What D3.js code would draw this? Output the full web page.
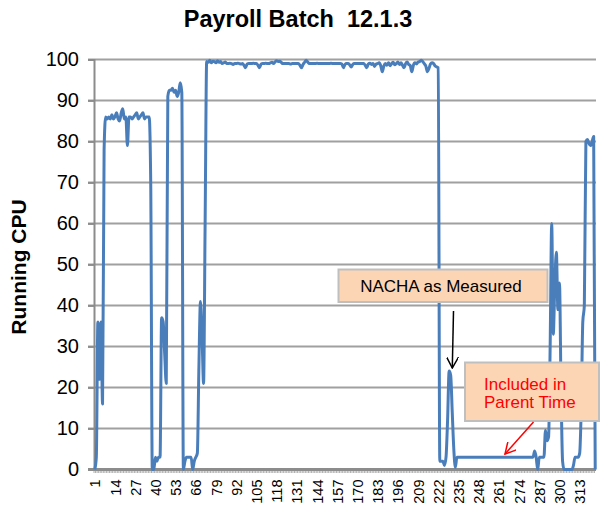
<!DOCTYPE html>
<html>
<head>
<meta charset="utf-8">
<script src="https://cdn.jsdelivr.net/npm/d3@7"></script>
<style>
  body { margin: 0; background: #fff; }
  svg { display: block; font-family: "Liberation Sans", Arial, sans-serif; }
</style>
</head>
<body>
<script>
// running CPU, one value per sample (1..323)
var cpu = [
  0, 3, 36, 22, 36, 16, 78, 86, 85.5, 86,
  85.5, 86.5, 85.5, 86, 87, 85.5, 85, 87, 88, 85.5,
  86, 79, 86, 86, 85.5, 86, 86.5, 87, 85.5, 86,
  86.5, 87, 85.5, 86, 86, 86, 70, 0, 0, 3,
  2, 3, 3, 37, 36, 28, 21, 91, 92.5, 92.5,
  93, 92, 92.5, 91, 92, 94.3, 92, 0, 2, 3,
  3, 3, 3, 0, 2, 3, 4, 25, 41, 33,
  21, 60, 99.5, 99.3, 99.8, 99.2, 99.6, 99.5, 99.2, 99.7,
  99.3, 99.5, 99, 99.2, 99.4, 99, 99, 99.1, 99, 98.8,
  99, 99, 99.1, 99, 98.9, 99, 98.6, 98, 98.9, 99,
  99, 99, 99.1, 99, 99, 98.6, 98, 98.9, 99, 99,
  99.1, 99, 99, 99.2, 99.3, 99, 99.4, 99.7, 99.5, 99.6,
  99.3, 99, 99, 99, 99, 99, 98.9, 99, 99, 99,
  99, 99, 98.6, 98, 98.8, 99.3, 99.8, 99.4, 99, 99,
  99, 99, 99, 99.1, 99, 99, 99, 99, 99, 99,
  99, 99, 99.1, 99, 99, 99, 99, 99, 99, 98.9,
  98, 98.8, 99, 99, 98.7, 98.2, 98.8, 99, 99, 99,
  99, 99, 99, 99, 98.6, 98, 98.9, 99.1, 98.8, 99,
  98.3, 98.9, 99, 99.2, 98.5, 97, 98.4, 99, 98.6, 99.2,
  98.5, 99, 99.3, 98.7, 99, 99.4, 98.8, 99.2, 98.6, 98,
  99, 99.4, 98.8, 98.5, 97, 98.6, 99.2, 98.9, 99.4, 99.5,
  99.8, 99.5, 99, 98.4, 97, 97.8, 98.9, 99.2, 99, 98.4,
  98.2, 98, 2, 2, 2, 1, 3, 12, 24, 23,
  14, 5, 0.5, 3, 3, 3, 3, 3, 3, 3,
  3, 3, 3, 3, 3, 3, 3, 3, 3, 3,
  3, 3, 3, 3, 3, 3, 3, 3, 3, 3,
  3, 3, 3, 3, 3, 3, 3, 3, 3, 3,
  3, 3, 3, 3, 3, 3, 3, 3, 3, 3,
  3, 3, 3, 4.5, 3, 0, 3, 3, 3, 3,
  9.6, 7, 8, 30, 60, 33, 45, 53, 39, 45.5,
  20, 2, 0, 0, 0, 0, 0, 0, 1, 3,
  3, 3, 4, 15, 36, 40, 80, 80.5, 79.5, 79,
  80, 81.2, 0
];
var samples = d3.range(1, cpu.length + 1);
var xLabels = ["1", "14", "27", "40", "53", "66", "79", "92", "105", "118", "131", "144", "157",
  "170", "183", "196", "209", "222", "235", "248", "261", "274", "287", "300", "313"];
var yTicks = [0, 10, 20, 30, 40, 50, 60, 70, 80, 90, 100];

var w = 600, h = 509;
var plotLeft = 94, plotRight = 596, plotTop = 59.5, plotBottom = 469.5;

var svg = d3.select("body").append("svg")
    .attr("width", w)
    .attr("height", h);

var x = d3.scalePoint().domain(samples).range([plotLeft, plotRight]).padding(0.5);
var y = d3.scaleLinear().domain([0, 100]).range([plotBottom, plotTop]);

// gridlines + left ticks
svg.append("g")
    .selectAll("line")
    .data(yTicks.filter(function (d) { return d > 0; }))
    .enter().append("line")
    .attr("x1", plotLeft - 6).attr("x2", plotRight)
    .attr("y1", function (d) { return y(d); })
    .attr("y2", function (d) { return y(d); })
    .attr("stroke", "#a0a0a0")
    .attr("stroke-width", 1.8);

// y axis
var yAxis = d3.axisLeft(y).tickValues(yTicks).tickSize(6).tickPadding(9);
var gy = svg.append("g").attr("transform", "translate(" + plotLeft + ",0)").call(yAxis);
gy.select(".domain").attr("stroke", "#8c8c8c").attr("stroke-width", 2);
gy.selectAll(".tick line").attr("stroke", "#8c8c8c").attr("stroke-width", 1.8);
gy.selectAll(".tick text")
    .attr("font-family", "Liberation Sans, Arial, sans-serif")
    .attr("font-size", 20)
    .attr("fill", "#000");

// x axis: tick every sample, label every 13th
var xAxis = d3.axisBottom(x)
    .tickValues(samples)
    .tickSize(0)
    .tickFormat(function (d) { return xLabels.indexOf(String(d)) >= 0 ? String(d) : ""; });
var gx = svg.append("g").attr("transform", "translate(0," + plotBottom + ")").call(xAxis);
gx.select(".domain").remove();
gx.selectAll(".tick text")
    .attr("font-family", "Liberation Sans, Arial, sans-serif")
    .attr("font-size", 14.5)
    .attr("fill", "#000")
    .attr("text-anchor", "end")
    .attr("transform", "rotate(-90)")
    .attr("x", -10)
    .attr("y", 0)
    .attr("dy", "0.35em");

// minor tick marks at category boundaries
var step = x.step();
svg.append("g")
    .selectAll("line")
    .data(samples)
    .enter().append("line")
    .attr("x1", function (d) { return x(d) - step / 2; })
    .attr("x2", function (d) { return x(d) - step / 2; })
    .attr("y1", plotBottom).attr("y2", plotBottom + 3.5)
    .attr("stroke", "#9a9a9a")
    .attr("stroke-width", 0.8);

svg.append("line")
    .attr("x1", plotLeft - 6).attr("x2", plotRight)
    .attr("y1", plotBottom).attr("y2", plotBottom)
    .attr("stroke", "#8c8c8c")
    .attr("stroke-width", 3);

// series
var line = d3.line()
    .x(function (d, i) { return x(samples[i]); })
    .y(function (d) { return y(d); })
    .curve(d3.curveMonotoneX);

svg.append("path")
    .datum(cpu)
    .attr("d", line)
    .attr("fill", "none")
    .attr("stroke", "#4a7ebb")
    .attr("stroke-width", 3)
    .attr("stroke-linejoin", "round");

// title and axis label
svg.append("text")
    .attr("x", 298).attr("y", 27)
    .attr("text-anchor", "middle")
    .attr("font-size", 23.5)
    .attr("font-weight", "bold")
    .attr("xml:space", "preserve")
    .text("Payroll Batch  12.1.3");

svg.append("text")
    .attr("transform", "translate(26,267) rotate(-90)")
    .attr("text-anchor", "middle")
    .attr("font-size", 21)
    .attr("font-weight", "bold")
    .text("Running CPU");

// annotations
svg.append("defs").selectAll("marker")
    .data([["arrowBlack", "#000"], ["arrowRed", "#ff0000"]])
    .enter().append("marker")
    .attr("id", function (d) { return d[0]; })
    .attr("viewBox", "0 0 12 12")
    .attr("refX", 11).attr("refY", 6)
    .attr("markerWidth", 12).attr("markerHeight", 12)
    .attr("markerUnits", "userSpaceOnUse")
    .attr("orient", "auto")
    .append("path")
    .attr("d", "M0,0 L11,6 L0,12")
    .attr("fill", "none")
    .attr("stroke", function (d) { return d[1]; })
    .attr("stroke-width", 1.5);

svg.append("rect")
    .attr("x", 338.5).attr("y", 269.5)
    .attr("width", 209).attr("height", 32.5)
    .attr("fill", "#fcd5b5")
    .attr("stroke", "#bfbfbf")
    .attr("stroke-width", 2);
svg.append("text")
    .attr("x", 441).attr("y", 292)
    .attr("text-anchor", "middle")
    .attr("font-size", 17)
    .attr("fill", "#000")
    .text("NACHA as Measured");

svg.append("line")
    .attr("x1", 453.5).attr("y1", 311)
    .attr("x2", 452.3).attr("y2", 368)
    .attr("stroke", "#000")
    .attr("stroke-width", 1.5)
    .attr("marker-end", "url(#arrowBlack)");

svg.append("rect")
    .attr("x", 465).attr("y", 362.5)
    .attr("width", 134).attr("height", 58.5)
    .attr("fill", "#fcd5b5")
    .attr("stroke", "#bfbfbf")
    .attr("stroke-width", 2);
svg.append("text")
    .attr("x", 484).attr("y", 389.5)
    .attr("font-size", 17)
    .attr("fill", "#ff0000")
    .text("Included in");
svg.append("text")
    .attr("x", 484).attr("y", 408)
    .attr("font-size", 17)
    .attr("fill", "#ff0000")
    .text("Parent Time");

svg.append("line")
    .attr("x1", 533.5).attr("y1", 422)
    .attr("x2", 505).attr("y2", 454)
    .attr("stroke", "#ff0000")
    .attr("stroke-width", 1.5)
    .attr("marker-end", "url(#arrowRed)");
</script>
</body>
</html>
